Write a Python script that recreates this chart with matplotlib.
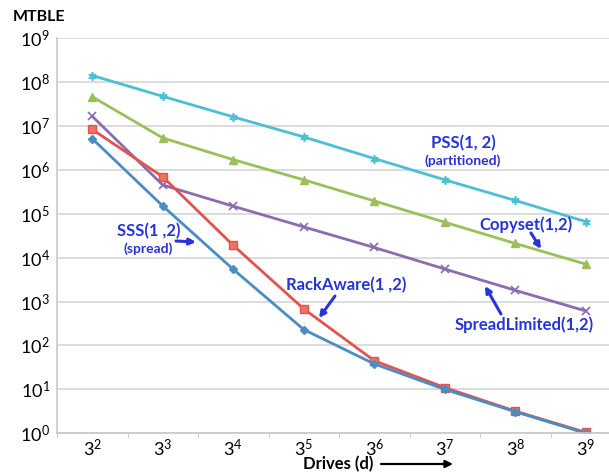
import matplotlib.pyplot as plt
import numpy as np

plt.rcParams['font.family'] = ['Lato', 'DejaVu Sans']
plt.rcParams['mathtext.fontset'] = 'custom'
plt.rcParams['mathtext.rm'] = 'Lato'
plt.rcParams['mathtext.it'] = 'Lato:italic'
plt.rcParams['mathtext.bf'] = 'Lato:bold'

drives = ['$3^2$', '$3^3$', '$3^4$', '$3^5$', '$3^6$', '$3^7$', '$3^8$', '$3^9$']

pss = [1.4e8, 4.7e7, 1.6e7, 5.6e6, 1.8e6, 5.9e5, 2.0e5, 6.6e4]
copyset = [4.6e7, 5.3e6, 1.7e6, 5.9e5, 1.95e5, 6.4e4, 2.1e4, 7.1e3]
spread_limited = [1.65e7, 4.5e5, 1.48e5, 5.0e4, 1.7e4, 5.5e3, 1.8e3, 6.1e2]
rack_aware = [8.3e6, 6.9e5, 1.9e4, 6.8e2, 45, 11, 3.2, 1.05]
sss = [5.1e6, 1.5e5, 5.4e3, 2.3e2, 38, 10, 3.1, 1.0]

blue_txt = '#2634D8'

fig = plt.figure(figsize=(6.09, 4.72), dpi=100)
ax = fig.add_axes([57 / 609, 38.7 / 472, 564 / 609, 395.3 / 472])

x = np.arange(len(drives))
ax.plot(x, pss, color='#4BBFD3', lw=2, marker=(6, 2, 0), ms=6, mew=1.2)
ax.plot(x, copyset, color='#9BBF5A', lw=2, marker='^', ms=6)
ax.plot(x, spread_limited, color='#8C6BAE', lw=2, marker='x', ms=6, mew=1.2)
ax.plot(x, rack_aware, color='#E2534D', lw=2, marker='s', ms=6, mfc='#F07068')
ax.plot(x, sss, color='#4A8CC4', lw=2, marker='D', ms=4.5)

ax.set_yscale('log')
ax.set_ylim(1, 1e9)
ax.set_xlim(-0.5, 7.5)
ax.set_yticks([10 ** i for i in range(10)])
ax.set_yticklabels([f'$10^{{{i}}}$' for i in range(10)])
ax.minorticks_off()
ax.set_xticks(x)
ax.set_xticklabels(drives)
ax.set_xticks(np.arange(-0.5, 8, 1), minor=True)
ax.tick_params(axis='x', which='major', length=0, labelsize=13, pad=3)
ax.tick_params(axis='x', which='minor', length=3, color='#BFBFBF', direction='out')
ax.tick_params(axis='y', length=0, labelsize=13, pad=5)
ax.grid(axis='y', color='#D6D6D6', lw=1.2)
ax.set_axisbelow(True)
for s in ['top', 'right']:
    ax.spines[s].set_visible(False)
for s in ['left', 'bottom']:
    ax.spines[s].set_color('#C8C8C8')
    ax.spines[s].set_linewidth(1.2)

fig.text(13 / 609, 1 - 17 / 472, 'MTBLE', fontsize=11.5, fontweight='bold', va='center', ha='left')
fig.text(338 / 609, 1 - 464 / 472, 'Drives (d)', fontsize=12, fontweight='bold', va='center', ha='center')
fig.add_artist(plt.Annotation('', xy=(453 / 609, 1 - 464 / 472), xytext=(381 / 609, 1 - 464 / 472),
                              xycoords='figure fraction', textcoords='figure fraction',
                              arrowprops=dict(arrowstyle='-|>', color='black', lw=1.6, mutation_scale=11,
                                              shrinkA=0, shrinkB=0)))


def label(txt, px, py, size=11):
    fig.text(px / 609, 1 - py / 472, txt, fontsize=size, fontweight='bold', color=blue_txt,
             ha='center', va='center')


def arrow(x0, y0, x1, y1):
    fig.add_artist(plt.Annotation('', xy=(x1 / 609, 1 - y1 / 472), xytext=(x0 / 609, 1 - y0 / 472),
                                  xycoords='figure fraction', textcoords='figure fraction',
                                  arrowprops=dict(arrowstyle='-|>', color=blue_txt, lw=2.2, mutation_scale=9,
                                                  shrinkA=0, shrinkB=0)))


label('PSS(1, 2)', 463, 143, 12)
label('(partitioned)', 463, 161, 10)
label('Copyset(1,2)', 526, 225, 12)
arrow(531, 233, 541, 249)
label('SpreadLimited(1,2)', 524, 325, 12)
arrow(501, 314, 485, 286)
label('SSS(1 ,2)', 149, 231, 12)
label('(spread)', 148, 249, 10)
arrow(176, 241, 196, 242)
label('RackAware(1 ,2)', 346, 285, 12)
arrow(335, 296, 319, 318)

fig.savefig('out.png', dpi=100)
